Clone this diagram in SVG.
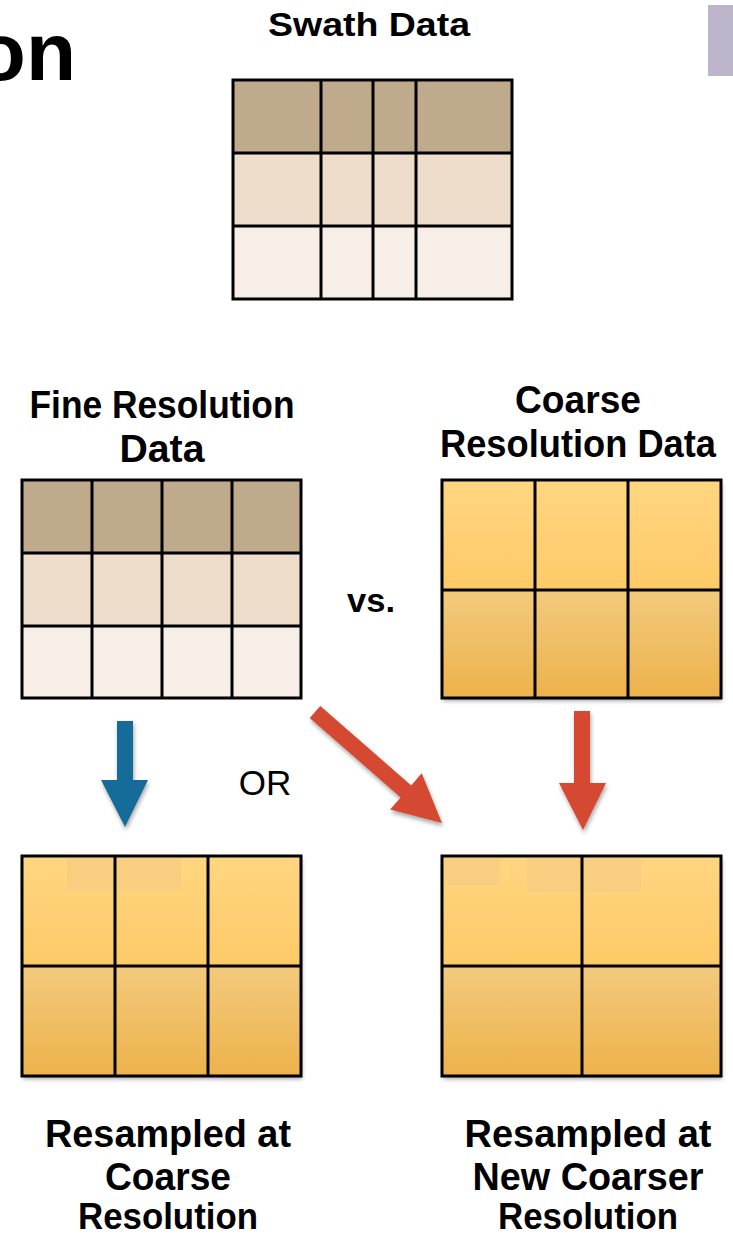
<svg xmlns="http://www.w3.org/2000/svg" width="733" height="1236" viewBox="0 0 733 1236">
<style>
.t{font-family:"Liberation Sans",Arial,sans-serif;font-weight:bold;fill:#000;text-anchor:middle}
.n{font-family:"Liberation Sans",Arial,sans-serif;fill:#000;text-anchor:middle}
.g{fill:none;stroke:#000;stroke-width:3}
.l{stroke:#000;stroke-width:3}
.r1{fill:#BFAB8B}.r2{fill:#EEDDCA}.r3{fill:#F7EEE7}
.o1{fill:url(#go1)}.o2{fill:url(#go2)}
</style>
<defs>
<linearGradient id="go1" x1="0" y1="0" x2="0" y2="1"><stop offset="0" stop-color="#FFD681"/><stop offset="1" stop-color="#FDCA67"/></linearGradient>
<linearGradient id="go2" x1="0" y1="0" x2="0" y2="1"><stop offset="0" stop-color="#F3CA7D"/><stop offset="1" stop-color="#EDB24B"/></linearGradient>
<filter id="sh" x="-20%" y="-20%" width="140%" height="150%"><feDropShadow dx="1" dy="3" stdDeviation="2" flood-color="#000" flood-opacity="0.35"/></filter>
</defs>
<rect width="733" height="1236" fill="#fff"/>

<g id="page-title">
<text class="t" x="76" y="80" font-size="82" style="text-anchor:end">on</text>
<rect x="708" y="5" width="25" height="71" fill="#BDB5C9"/>
</g>

<g id="swath">
<text class="t" x="369" y="36" font-size="34" textLength="202" lengthAdjust="spacingAndGlyphs">Swath Data</text>
<rect class="r1" x="233" y="80" width="279" height="73"/>
<rect class="r2" x="233" y="153" width="279" height="73"/>
<rect class="r3" x="233" y="226" width="279" height="73"/>
<path class="l" d="M321 80V299M373 80V299M416 80V299M233 153H512M233 226H512"/>
<rect class="g" x="233" y="80" width="279" height="219"/>
</g>

<g id="fine">
<text class="t" x="162" y="418" font-size="38" textLength="265" lengthAdjust="spacingAndGlyphs">Fine Resolution</text>
<text class="t" x="162" y="462" font-size="38" textLength="85" lengthAdjust="spacingAndGlyphs">Data</text>
<rect class="r1" x="22" y="480" width="279" height="73"/>
<rect class="r2" x="22" y="553" width="279" height="73"/>
<rect class="r3" x="22" y="626" width="279" height="72"/>
<path class="l" d="M92 480V698M162 480V698M232 480V698M22 553H301M22 626H301"/>
<rect class="g" x="22" y="480" width="279" height="218"/>
</g>

<g id="vs"><text class="t" x="371" y="612" font-size="34" textLength="48" lengthAdjust="spacingAndGlyphs">vs.</text></g>

<g id="coarse">
<text class="t" x="578" y="413" font-size="38" textLength="126" lengthAdjust="spacingAndGlyphs">Coarse</text>
<text class="t" x="578" y="457" font-size="38" textLength="276" lengthAdjust="spacingAndGlyphs">Resolution Data</text>
<g filter="url(#sh)">
<rect class="o1" x="442" y="480" width="279" height="110"/>
<rect class="o2" x="442" y="590" width="279" height="108"/>
</g>
<path class="l" d="M535 480V698M628 480V698M442 590H721"/>
<rect class="g" x="442" y="480" width="279" height="218"/>
</g>

<g id="or"><text class="n" x="265" y="795" font-size="35">OR</text></g>

<g id="connectors" filter="url(#sh)">
<polygon fill="#186C99" points="117,721 133,721 133,780 148,780 125,827 101,780 117,780"/>
<polygon fill="#D54A30" points="320.3,706 411.2,785.4 421.7,773.3 442,823 390.1,809.5 400.6,797.4 309.7,718"/>
<polygon fill="#D54A30" points="574,711 590,711 590,783 606,783 583,830 559,783 574,783"/>
</g>

<g id="resampled-coarse">
<g filter="url(#sh)">
<rect class="o1" x="22" y="856" width="279" height="110"/>
<rect class="o2" x="22" y="966" width="279" height="110"/>
</g>
<rect x="67" y="858" width="114" height="32" fill="#F6CD82" opacity="0.8"/>
<path class="l" d="M115 856V1076M208 856V1076M22 966H301"/>
<rect class="g" x="22" y="856" width="279" height="220"/>
<text class="t" x="168" y="1147" font-size="38" textLength="246" lengthAdjust="spacingAndGlyphs">Resampled at</text>
<text class="t" x="168" y="1190" font-size="38" textLength="126" lengthAdjust="spacingAndGlyphs">Coarse</text>
<text class="t" x="168" y="1229" font-size="37" textLength="180" lengthAdjust="spacingAndGlyphs">Resolution</text>
</g>

<g id="resampled-new">
<g filter="url(#sh)">
<rect class="o1" x="442" y="856" width="279" height="110"/>
<rect class="o2" x="442" y="966" width="279" height="110"/>
</g>
<rect x="445" y="858" width="55" height="27" fill="#F6CD82" opacity="0.8"/>
<rect x="527" y="858" width="114" height="34" fill="#F6CD82" opacity="0.8"/>
<path class="l" d="M582 856V1076M442 966H721"/>
<rect class="g" x="442" y="856" width="279" height="220"/>
<text class="t" x="588" y="1147" font-size="38" textLength="247" lengthAdjust="spacingAndGlyphs">Resampled at</text>
<text class="t" x="588" y="1190" font-size="38" textLength="231" lengthAdjust="spacingAndGlyphs">New Coarser</text>
<text class="t" x="588" y="1229" font-size="37" textLength="180" lengthAdjust="spacingAndGlyphs">Resolution</text>
</g>
</svg>
